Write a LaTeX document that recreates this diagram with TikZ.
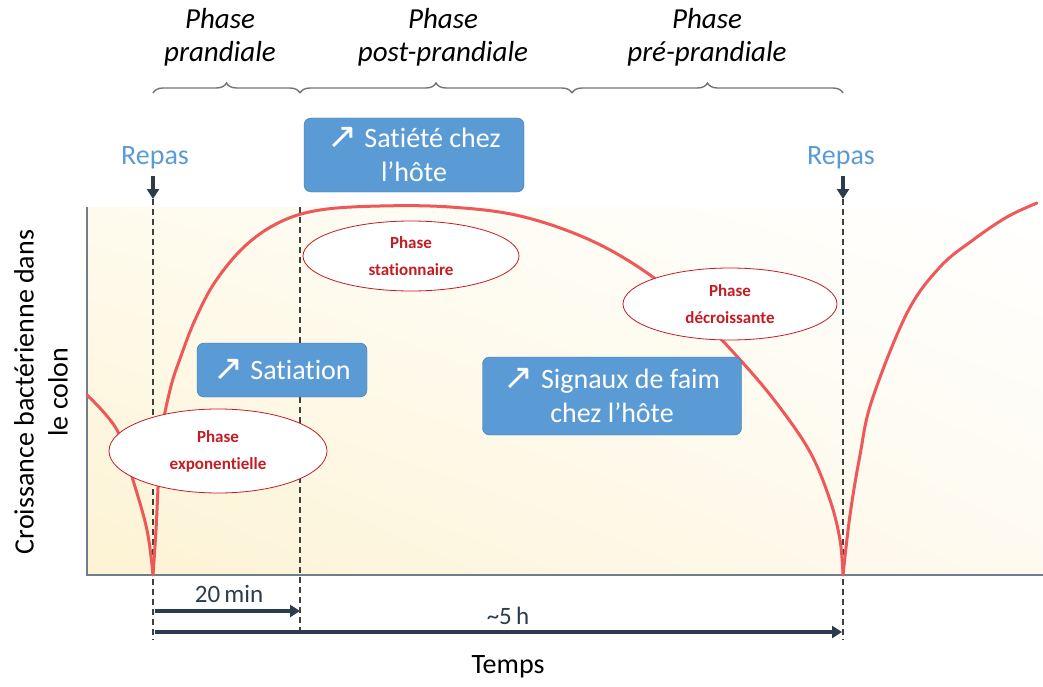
\documentclass[tikz,border=0pt]{standalone}
\usepackage{fontspec}
\setmainfont{Carlito}[Ligatures=NoCommon]
\newfontfamily\symbfont{DejaVu Sans}
\usetikzlibrary{arrows.meta,positioning,shapes.geometric,decorations.pathreplacing,shadings}

\definecolor{boxblue}{RGB}{91,155,213}
\definecolor{boxedge}{RGB}{65,113,156}
\definecolor{curvered}{RGB}{238,88,88}
\definecolor{ellred}{RGB}{196,28,36}
\definecolor{darkslate}{RGB}{44,60,76}
\definecolor{axisgray}{RGB}{112,126,140}
\definecolor{creamA}{RGB}{253,243,212}
\definecolor{creamB}{RGB}{254,251,238}
\definecolor{creamC}{RGB}{254,250,240}

\newcommand{\up}{\raisebox{-1pt}[0pt][0pt]{\symbfont\fontsize{36}{36}\selectfont\char"2197}\hspace{7pt}}

\begin{document}
\begin{tikzpicture}[x=1pt,y=-1pt,>={Triangle[length=10pt,width=12pt]}]
  \tikzstyle{signal}=[rectangle,rounded corners=7pt,draw=boxedge,fill=boxblue,text=white,align=center,font=\fontsize{28}{34}\selectfont]
  \tikzstyle{phaseell}=[ellipse,draw=ellred,thick,fill=white,text=ellred,align=center,inner sep=0pt,font=\bfseries\fontsize{17}{27}\selectfont]
  \tikzstyle{phaselbl}=[align=center,font=\itshape\fontsize{29}{33}\selectfont]
  \tikzstyle{repas}=[text=boxblue,font=\fontsize{28}{28}\selectfont]
  \tikzstyle{guide}=[draw=black!75,line width=1.3pt,dash pattern=on 6pt off 4pt]
  \tikzstyle{timearrow}=[draw=darkslate,line width=4pt,->]
  \tikzstyle{phasebrace}=[draw=black!55,line width=1.4pt,decorate,decoration={brace,amplitude=10pt}]

  \useasboundingbox (0,0) rectangle (1043,687);

  % plot area
  \shade[lower left=creamA,upper left=creamB,lower right=creamC,upper right=white]
    (87,207) rectangle (1043,575);
  \coordinate (origin) at (87,575);
  \coordinate (ytop) at (87,207);
  \coordinate (xend) at (1043,575);
  \draw[axisgray,line width=2pt] (ytop) -- (origin) -- (xend);

  % meal and phase limits
  \coordinate (meal1top) at (153,199);
  \coordinate (meal1bot) at (153,640);
  \coordinate (sat top) at (300,207);
  \coordinate (sat bot) at (300,632);
  \coordinate (meal2top) at (843,199);
  \coordinate (meal2bot) at (843,640);
  \path[guide] (meal1top) -- (meal1bot);
  \path[guide] (sat top) -- (sat bot);
  \path[guide] (meal2top) -- (meal2bot);

  % growth curve
  \draw[curvered,line width=3pt,line cap=round] plot[smooth,tension=0.6] coordinates
    {(87,395) (117,430) (133,480) (147,530) (153,575)};
  \draw[curvered,line width=3pt,line cap=round] plot[smooth,tension=0.6] coordinates
    {(153,575) (156,530) (161,440) (170,390) (181,356) (195,320) (215,282) (245,246) (280,222)
     (320,210) (380,206) (450,207) (520,216) (590,240) (650,275) (700,318) (743,363)
     (778,405) (810,452) (830,500) (840,540) (843,575)};
  \draw[curvered,line width=3pt,line cap=round] plot[smooth,tension=0.6] coordinates
    {(843,575) (850,515) (860,455) (872,400) (907,313) (940,267) (973,240) (1007,217) (1037,203)};

  % meals
  \node[repas] (repas1) at (155,158) {Repas};
  \node[repas] (repas2) at (841,158) {Repas};
  \draw[darkslate,line width=3.5pt,->] (153,176) -- (meal1top);
  \draw[darkslate,line width=3.5pt,->] (843,176) -- (meal2top);

  % phases
  \path[phasebrace] (153,93) -- (300,93);
  \path[phasebrace] (300,93) -- (572,93);
  \path[phasebrace] (572,93) -- (843,93);
  \node[phaselbl] (prand) at (220,37) {Phase\\prandiale};
  \node[phaselbl] (postprand) at (443,37) {Phase\\post-prandiale};
  \node[phaselbl] (preprand) at (707,37) {Phase\\pré-prandiale};

  % host signals
  \node[signal,minimum width=220pt,minimum height=74pt] (satiete) at (414,155) {\up Satiété chez\\l’hôte};
  \node[signal,minimum width=170pt,minimum height=54pt] (satiation) at (282,370) {\up Satiation};
  \node[signal,minimum width=259pt,minimum height=78pt] (faim) at (612,396) {\up Signaux de faim\\chez l’hôte};

  % growth phases
  \node[phaseell,minimum width=216pt,minimum height=70pt] (stat) at (411,256) {Phase\\stationnaire};
  \node[phaseell,minimum width=214pt,minimum height=72pt] (decr) at (730,304) {Phase\\décroissante};
  \node[phaseell,minimum width=218pt,minimum height=84pt] (expo) at (218,451) {Phase\\exponentielle};

  % durations
  \coordinate (d1start) at (155,611);
  \coordinate (d1end) at (300,611);
  \coordinate (d2start) at (155,632);
  \coordinate (d2end) at (842,632);
  \path[timearrow] (d1start) -- (d1end);
  \path[timearrow] (d2start) -- (d2end);
  \node[text=darkslate,font=\fontsize{25}{25}\selectfont] (min20) at (229,594) {20\,min};
  \node[text=darkslate,font=\fontsize{25}{25}\selectfont] (h5) at (508,616) {\textasciitilde5\,h};

  % axis titles
  \node[font=\fontsize{28}{28}\selectfont] (temps) at (508,667) {Temps};
  \node[rotate=90,align=center,font=\fontsize{28}{34}\selectfont] (ylbl) at (41,392)
    {Croissance bactérienne dans\\le colon};
\end{tikzpicture}
\end{document}
